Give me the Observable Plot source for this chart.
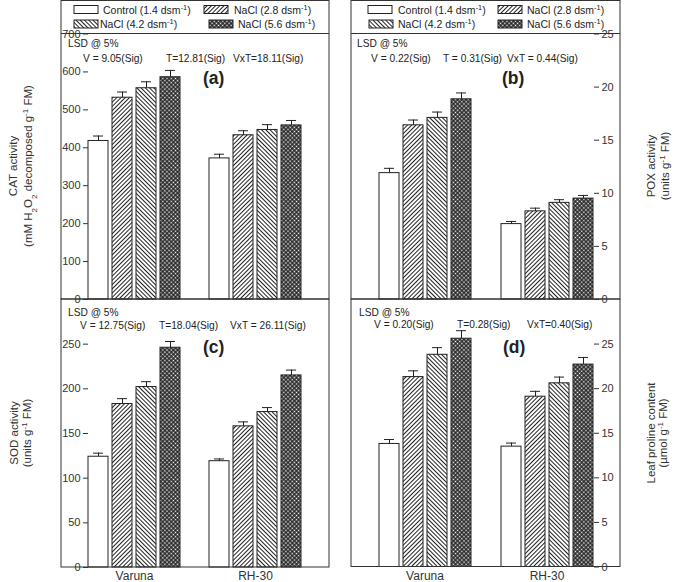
<!DOCTYPE html>
<html>
<head>
<meta charset="utf-8">
<script src="https://cdn.jsdelivr.net/npm/d3@7"></script>
<script src="https://cdn.jsdelivr.net/npm/@observablehq/plot@0.6"></script>
<style>
  body { margin: 0; background: #fff; }
  #chart { position: relative; width: 675px; height: 582px; font-family: "Liberation Sans", Arial, sans-serif; }
  #chart svg { position: absolute; left: 0; top: 0; overflow: visible; }
</style>
</head>
<body>
<div id="chart"></div>
<script>
// ---------- data ----------
const varieties = ["Varuna", "RH-30"];
const treatments = ["Control", "NaCl 2.8", "NaCl 4.2", "NaCl 5.6"];
const legendText = ["Control (1.4 dsm", "NaCl (2.8 dsm", "NaCl (4.2 dsm", "NaCl (5.6 dsm"];

const catValues = [[418, 532, 557, 586], [372, 433, 447, 459]];
const catErrors = [[13, 15, 17, 18], [11, 12, 14, 13]];
const poxValues = [[11.9, 16.4, 17.1, 18.85], [7.1, 8.3, 9.1, 9.5]];
const poxErrors = [[0.45, 0.5, 0.55, 0.6], [0.25, 0.3, 0.3, 0.3]];
const sodValues = [[124, 183, 202, 246], [119, 158, 174, 215]];
const sodErrors = [[4, 6, 6, 7], [2.5, 5, 5, 6]];
const proValues = [[13.8, 21.3, 23.8, 25.6], [13.5, 19.1, 20.6, 22.7]];
const proErrors = [[0.5, 0.7, 0.8, 0.9], [0.4, 0.6, 0.7, 0.8]];

const catTicks = [0, 100, 200, 300, 400, 500, 600, 700];
const poxTicks = [0, 5, 10, 15, 20, 25];
const sodTicks = [0, 50, 100, 150, 200, 250];
const proTicks = [0, 5, 10, 15, 20, 25];

const catLsd = ["V = 9.05(Sig)", "T=12.81(Sig)", "VxT=18.11(Sig)"];
const poxLsd = ["V = 0.22(Sig)", "T = 0.31(Sig)", "VxT = 0.44(Sig)"];
const sodLsd = ["V = 12.75(Sig)", "T=18.04(Sig)", "VxT = 26.11(Sig)"];
const proLsd = ["V = 0.20(Sig)", "T=0.28(Sig)", "VxT=0.40(Sig)"];

// ---------- layout ----------
const W = 675, H = 582;
const FONT = '"Liberation Sans", Arial, sans-serif';
const INK = "#222";
const fills = ["#fff", "url(#p28)", "url(#p42)", "url(#p56)"];

const panels = [
  { letter: "(a)", values: catValues, errors: catErrors, domain: [0, 700], ticks: catTicks, lsd: catLsd,
    x0: 61, x1: 329, frameTop: 0.5, top: 33.5, bottom: 299, side: "left", legend: true, xAxis: false,
    lsdX: [68, 83, 166, 233], lsdY: [46.5, 61.5], letterX: 203, letterY: 84,
    title: [[["CAT activity"]], [["(mM H"], ["2", "sub"], ["O"], ["2", "sub"], [" decomposed g"], ["-1", "sup"], [" FM)"]]],
    titleX: [13, 28], titleY: 166,
    legX: [[74, 103, 204, 234], [74, 100, 209, 238]] },
  { letter: "(b)", values: poxValues, errors: poxErrors, domain: [0, 25], ticks: poxTicks, lsd: poxLsd,
    x0: 351, x1: 620, frameTop: 0.5, top: 33.5, bottom: 299, side: "right", legend: true, xAxis: false,
    lsdX: [357, 371, 443, 507], lsdY: [46.5, 61.5], letterX: 502, letterY: 84,
    title: [[["POX activity"]], [["(units g"], ["-1", "sup"], [" FM)"]]],
    titleX: [651, 665], titleY: 166,
    legX: [[368, 398, 498, 527], [369, 398, 498, 527]] },
  { letter: "(c)", values: sodValues, errors: sodErrors, domain: [0, 300], ticks: sodTicks, lsd: sodLsd,
    x0: 61, x1: 329, frameTop: 299, top: 299, bottom: 567, side: "left", legend: false, xAxis: true,
    lsdX: [68, 80, 159, 230], lsdY: [316, 328.5], letterX: 203, letterY: 353,
    title: [[["SOD activity"]], [["(units g"], ["-1", "sup"], [" FM)"]]],
    titleX: [14, 27], titleY: 433 },
  { letter: "(d)", values: proValues, errors: proErrors, domain: [0, 30], ticks: proTicks, lsd: proLsd,
    x0: 351, x1: 620, frameTop: 299, top: 299, bottom: 566.5, side: "right", legend: false, xAxis: true,
    lsdX: [359, 374, 457, 527], lsdY: [315.5, 328], letterX: 503, letterY: 353,
    title: [[["Leaf proline content"]], [["(\u00b5mol g"], ["-1", "sup"], [" FM)"]]],
    titleX: [651, 663], titleY: 433 }
];

const chart = d3.select("#chart");

// ---------- patterns ----------
const defs = chart.append("svg").attr("width", 0).attr("height", 0).append("defs");
function hatch(id, angle) {
  const p = defs.append("pattern").attr("id", id).attr("patternUnits", "userSpaceOnUse")
    .attr("width", 3).attr("height", 3).attr("patternTransform", `rotate(${angle})`);
  p.append("rect").attr("width", 3).attr("height", 3).attr("fill", "#fff");
  p.append("rect").attr("x", 0).attr("y", 0).attr("width", 1.0).attr("height", 3).attr("fill", "#222");
}
hatch("p28", 45);
hatch("p42", -45);
{
  const p = defs.append("pattern").attr("id", "p56").attr("patternUnits", "userSpaceOnUse")
    .attr("width", 3).attr("height", 3).attr("patternTransform", "rotate(45)");
  p.append("rect").attr("width", 3).attr("height", 3).attr("fill", "#1a1a1a");
  p.append("rect").attr("x", 0.7).attr("y", 0.7).attr("width", 1.6).attr("height", 1.6).attr("fill", "#fff");
}

// ---------- plots ----------
for (const p of panels) {
  const rows = [];
  varieties.forEach((v, i) => treatments.forEach((t, j) =>
    rows.push({ variety: v, treatment: t, value: p.values[i][j], err: p.errors[i][j] })));
  const marks = [
    Plot.barY(rows, { fx: "variety", x: "treatment", y: "value", fill: "treatment", stroke: INK, strokeWidth: 1 }),
    Plot.ruleX(rows, { fx: "variety", x: "treatment", y1: "value", y2: d => d.value + d.err, stroke: INK, strokeWidth: 1 }),
    Plot.tickY(rows, { fx: "variety", x: "treatment", y: d => d.value + d.err, stroke: INK, strokeWidth: 1, insetLeft: 5, insetRight: 5 }),
    Plot.axisY({ anchor: p.side, ticks: p.ticks, tickSize: 5, tickPadding: 3, fontSize: 11, label: null, tickFormat: d => String(d) })
  ];
  if (p.xAxis) marks.push(Plot.axisFx({ anchor: "bottom", tickSize: 0, tickPadding: 4, fontSize: 12, label: null }));
  const svg = Plot.plot({
    width: W, height: H,
    marginLeft: p.x0, marginRight: W - p.x1, marginTop: p.top, marginBottom: H - p.bottom,
    style: { background: "transparent", overflow: "visible", fontFamily: FONT, color: "#333" },
    fx: { domain: varieties, paddingInner: 0.2377, paddingOuter: 0.221, axis: null, label: null },
    x: { domain: treatments, paddingInner: 0.18, paddingOuter: 0, axis: null },
    y: { domain: p.domain, axis: null },
    color: { type: "ordinal", domain: treatments, range: fills },
    marks
  });
  chart.node().appendChild(svg);
}

// ---------- overlay: frames, legends, annotation text ----------
const ov = chart.append("svg").attr("width", W).attr("height", H).style("pointer-events", "none");

function rich(g, x, y, parts, opts = {}) {
  const t = g.append("text").attr("x", x).attr("y", y)
    .attr("font-family", FONT).attr("font-size", opts.size || 10.5).attr("fill", opts.fill || INK)
    .attr("font-weight", opts.weight || null).attr("text-anchor", opts.anchor || "start");
  if (opts.rotate) t.attr("transform", `rotate(${opts.rotate},${x},${y})`).attr("dy", "0.35em");
  for (const [s, kind] of parts) {
    const ts = t.append("tspan").text(s);
    if (kind === "sup") ts.attr("baseline-shift", "super").attr("font-size", "70%");
    if (kind === "sub") ts.attr("baseline-shift", "sub").attr("font-size", "70%");
  }
  return t;
}

for (const p of panels) {
  ov.append("rect").attr("x", p.x0).attr("y", p.frameTop).attr("width", p.x1 - p.x0).attr("height", p.bottom - p.frameTop)
    .attr("fill", "none").attr("stroke", "#333").attr("stroke-width", 1);
  if (p.legend) {
    ov.append("line").attr("x1", p.x0).attr("x2", p.x1).attr("y1", p.top).attr("y2", p.top)
      .attr("stroke", "#333").attr("stroke-width", 1);
    treatments.forEach((t, k) => {
      const row = Math.floor(k / 2), col = k % 2;
      const lx = p.legX[row];
      const sx = lx[col * 2], tx = lx[col * 2 + 1];
      const cy = row === 0 ? 9.5 : 24;
      ov.append("rect").attr("x", sx).attr("y", cy - 4).attr("width", 24).attr("height", 8)
        .attr("fill", fills[k]).attr("stroke", INK).attr("stroke-width", 1);
      rich(ov, tx, cy + 4, [[legendText[k]], ["-1", "sup"], [")"]], { size: 10.5 });
    });
  }
  rich(ov, p.lsdX[0], p.lsdY[0], [["LSD @ 5%"]], { size: 10.2 });
  p.lsd.forEach((s, k) => rich(ov, p.lsdX[k + 1], p.lsdY[1], [[s]], { size: 10.2 }));
  rich(ov, p.letterX, p.letterY, [[p.letter]], { size: 17.5, weight: "bold" });
  p.title.forEach((parts, k) => rich(ov, p.titleX[k], p.titleY, parts, { size: 11.5, anchor: "middle", rotate: -90, fill: "#333" }));
}
</script>
</body>
</html>
